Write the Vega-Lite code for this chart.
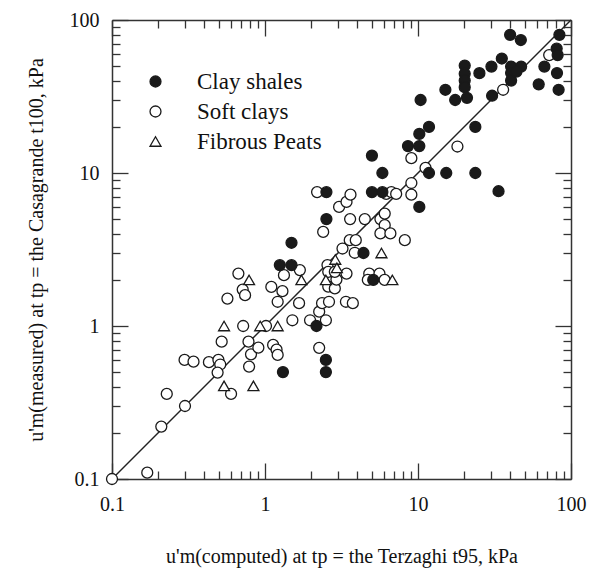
{
  "$schema": "https://vega.github.io/schema/vega-lite/v6.json",
  "width": 459,
  "height": 459,
  "autosize": {"type": "none"},
  "padding": {"left": 112, "top": 20, "right": 18, "bottom": 92},
  "background": "white",
  "config": {
    "view": {"stroke": null},
    "font": "Liberation Serif",
    "axis": {
      "grid": false,
      "labelFlush": false,
      "domainColor": "#333",
      "domainWidth": 1.5,
      "tickColor": "#333",
      "tickWidth": 1.3,
      "labelFont": "Liberation Serif",
      "labelFontSize": 20,
      "labelColor": "#111",
      "titleFont": "Liberation Serif",
      "titleFontSize": 20,
      "titleFontWeight": "normal",
      "titleColor": "#111"
    },
    "legend": {
      "orient": "none",
      "legendX": 32,
      "legendY": 50,
      "padding": 0,
      "labelFont": "Liberation Serif",
      "labelFontSize": 23,
      "labelColor": "#111",
      "labelOffset": 30,
      "rowPadding": 6,
      "symbolSize": 120,
      "symbolStrokeWidth": 1.3
    }
  },
  "datasets": {
    "pts": [
      {"x": 0.1, "y": 0.1, "type": "Soft clays"},
      {"x": 0.17, "y": 0.11, "type": "Soft clays"},
      {"x": 0.21, "y": 0.22, "type": "Soft clays"},
      {"x": 0.228, "y": 0.36, "type": "Soft clays"},
      {"x": 0.3, "y": 0.3, "type": "Soft clays"},
      {"x": 0.298, "y": 0.6, "type": "Soft clays"},
      {"x": 0.341, "y": 0.585, "type": "Soft clays"},
      {"x": 0.43, "y": 0.58, "type": "Soft clays"},
      {"x": 0.496, "y": 0.6, "type": "Soft clays"},
      {"x": 0.51, "y": 0.56, "type": "Soft clays"},
      {"x": 0.49, "y": 0.496, "type": "Soft clays"},
      {"x": 0.521, "y": 0.79, "type": "Soft clays"},
      {"x": 0.6, "y": 0.36, "type": "Soft clays"},
      {"x": 0.568, "y": 1.51, "type": "Soft clays"},
      {"x": 0.67, "y": 2.2, "type": "Soft clays"},
      {"x": 0.715, "y": 1.73, "type": "Soft clays"},
      {"x": 0.741, "y": 1.59, "type": "Soft clays"},
      {"x": 0.72, "y": 1.0, "type": "Soft clays"},
      {"x": 0.78, "y": 0.79, "type": "Soft clays"},
      {"x": 0.81, "y": 0.653, "type": "Soft clays"},
      {"x": 0.787, "y": 0.543, "type": "Soft clays"},
      {"x": 0.905, "y": 0.722, "type": "Soft clays"},
      {"x": 1.015, "y": 1.0, "type": "Soft clays"},
      {"x": 1.1, "y": 1.8, "type": "Soft clays"},
      {"x": 1.13, "y": 0.752, "type": "Soft clays"},
      {"x": 1.19, "y": 0.7, "type": "Soft clays"},
      {"x": 1.21, "y": 0.647, "type": "Soft clays"},
      {"x": 1.21, "y": 1.44, "type": "Soft clays"},
      {"x": 1.3, "y": 1.69, "type": "Soft clays"},
      {"x": 1.33, "y": 2.15, "type": "Soft clays"},
      {"x": 1.51, "y": 1.09, "type": "Soft clays"},
      {"x": 1.67, "y": 1.41, "type": "Soft clays"},
      {"x": 1.69, "y": 2.32, "type": "Soft clays"},
      {"x": 1.97, "y": 1.09, "type": "Soft clays"},
      {"x": 2.26, "y": 0.72, "type": "Soft clays"},
      {"x": 2.26, "y": 1.24, "type": "Soft clays"},
      {"x": 2.36, "y": 1.41, "type": "Soft clays"},
      {"x": 2.5, "y": 1.09, "type": "Soft clays"},
      {"x": 2.62, "y": 1.44, "type": "Soft clays"},
      {"x": 2.59, "y": 1.81, "type": "Soft clays"},
      {"x": 2.86, "y": 1.76, "type": "Soft clays"},
      {"x": 2.93, "y": 2.01, "type": "Soft clays"},
      {"x": 2.56, "y": 2.5, "type": "Soft clays"},
      {"x": 2.59, "y": 2.26, "type": "Soft clays"},
      {"x": 2.86, "y": 2.26, "type": "Soft clays"},
      {"x": 2.4, "y": 4.12, "type": "Soft clays"},
      {"x": 2.19, "y": 7.5, "type": "Soft clays"},
      {"x": 3.05, "y": 6.0, "type": "Soft clays"},
      {"x": 3.41, "y": 6.47, "type": "Soft clays"},
      {"x": 3.62, "y": 7.22, "type": "Soft clays"},
      {"x": 3.6, "y": 5.0, "type": "Soft clays"},
      {"x": 3.21, "y": 3.21, "type": "Soft clays"},
      {"x": 3.58, "y": 3.64, "type": "Soft clays"},
      {"x": 3.92, "y": 3.64, "type": "Soft clays"},
      {"x": 3.86, "y": 3.01, "type": "Soft clays"},
      {"x": 3.41, "y": 2.2, "type": "Soft clays"},
      {"x": 3.38, "y": 1.44, "type": "Soft clays"},
      {"x": 3.75, "y": 1.41, "type": "Soft clays"},
      {"x": 4.49, "y": 5.0, "type": "Soft clays"},
      {"x": 4.8, "y": 2.2, "type": "Soft clays"},
      {"x": 5.6, "y": 2.2, "type": "Soft clays"},
      {"x": 4.7, "y": 2.0, "type": "Soft clays"},
      {"x": 6.05, "y": 2.0, "type": "Soft clays"},
      {"x": 5.68, "y": 5.0, "type": "Soft clays"},
      {"x": 6.06, "y": 5.43, "type": "Soft clays"},
      {"x": 6.06, "y": 4.56, "type": "Soft clays"},
      {"x": 5.68, "y": 4.03, "type": "Soft clays"},
      {"x": 6.6, "y": 4.03, "type": "Soft clays"},
      {"x": 8.2, "y": 3.64, "type": "Soft clays"},
      {"x": 9.05, "y": 7.22, "type": "Soft clays"},
      {"x": 9.05, "y": 8.6, "type": "Soft clays"},
      {"x": 9.05, "y": 12.5, "type": "Soft clays"},
      {"x": 11.2, "y": 10.8, "type": "Soft clays"},
      {"x": 18.1, "y": 14.9, "type": "Soft clays"},
      {"x": 6.2, "y": 7.3, "type": "Soft clays"},
      {"x": 6.7, "y": 7.5, "type": "Soft clays"},
      {"x": 7.2, "y": 7.3, "type": "Soft clays"},
      {"x": 36, "y": 35, "type": "Soft clays"},
      {"x": 72, "y": 59, "type": "Soft clays"},
      {"x": 0.54, "y": 1.0, "type": "Fibrous Peats"},
      {"x": 0.787, "y": 2.0, "type": "Fibrous Peats"},
      {"x": 0.93, "y": 1.0, "type": "Fibrous Peats"},
      {"x": 1.21, "y": 1.0, "type": "Fibrous Peats"},
      {"x": 0.54, "y": 0.406, "type": "Fibrous Peats"},
      {"x": 0.84, "y": 0.406, "type": "Fibrous Peats"},
      {"x": 1.73, "y": 2.0, "type": "Fibrous Peats"},
      {"x": 2.5, "y": 2.0, "type": "Fibrous Peats"},
      {"x": 2.88, "y": 2.72, "type": "Fibrous Peats"},
      {"x": 2.95, "y": 2.4, "type": "Fibrous Peats"},
      {"x": 5.77, "y": 3.0, "type": "Fibrous Peats"},
      {"x": 6.8, "y": 2.0, "type": "Fibrous Peats"},
      {"x": 40, "y": 80, "type": "Clay shales"},
      {"x": 47, "y": 74, "type": "Clay shales"},
      {"x": 84, "y": 80, "type": "Clay shales"},
      {"x": 80.6, "y": 65, "type": "Clay shales"},
      {"x": 81.8, "y": 59, "type": "Clay shales"},
      {"x": 35.3, "y": 56, "type": "Clay shales"},
      {"x": 30.2, "y": 49.6, "type": "Clay shales"},
      {"x": 25.2, "y": 44.9, "type": "Clay shales"},
      {"x": 40.6, "y": 49.6, "type": "Clay shales"},
      {"x": 47.2, "y": 49.6, "type": "Clay shales"},
      {"x": 40.6, "y": 45, "type": "Clay shales"},
      {"x": 40.6, "y": 40.2, "type": "Clay shales"},
      {"x": 44, "y": 46, "type": "Clay shales"},
      {"x": 67, "y": 49.6, "type": "Clay shales"},
      {"x": 81, "y": 45, "type": "Clay shales"},
      {"x": 61.5, "y": 38, "type": "Clay shales"},
      {"x": 83, "y": 35, "type": "Clay shales"},
      {"x": 30.5, "y": 32, "type": "Clay shales"},
      {"x": 23.7, "y": 20, "type": "Clay shales"},
      {"x": 23.7, "y": 10, "type": "Clay shales"},
      {"x": 33.6, "y": 7.6, "type": "Clay shales"},
      {"x": 20.2, "y": 50.4, "type": "Clay shales"},
      {"x": 20.2, "y": 44.5, "type": "Clay shales"},
      {"x": 20.2, "y": 40.2, "type": "Clay shales"},
      {"x": 20.2, "y": 36.4, "type": "Clay shales"},
      {"x": 20.9, "y": 31, "type": "Clay shales"},
      {"x": 15.1, "y": 35, "type": "Clay shales"},
      {"x": 17.5, "y": 30, "type": "Clay shales"},
      {"x": 10.4, "y": 30, "type": "Clay shales"},
      {"x": 11.8, "y": 20, "type": "Clay shales"},
      {"x": 10.2, "y": 18, "type": "Clay shales"},
      {"x": 8.6, "y": 15, "type": "Clay shales"},
      {"x": 10.2, "y": 15, "type": "Clay shales"},
      {"x": 5.0, "y": 13, "type": "Clay shales"},
      {"x": 5.85, "y": 10, "type": "Clay shales"},
      {"x": 11.8, "y": 10, "type": "Clay shales"},
      {"x": 15.3, "y": 10, "type": "Clay shales"},
      {"x": 10.2, "y": 6, "type": "Clay shales"},
      {"x": 2.52, "y": 7.5, "type": "Clay shales"},
      {"x": 5.0, "y": 7.5, "type": "Clay shales"},
      {"x": 5.85, "y": 7.5, "type": "Clay shales"},
      {"x": 2.52, "y": 5.0, "type": "Clay shales"},
      {"x": 1.49, "y": 3.5, "type": "Clay shales"},
      {"x": 1.25, "y": 2.5, "type": "Clay shales"},
      {"x": 1.49, "y": 2.5, "type": "Clay shales"},
      {"x": 4.4, "y": 3.0, "type": "Clay shales"},
      {"x": 5.1, "y": 2.0, "type": "Clay shales"},
      {"x": 2.17, "y": 1.0, "type": "Clay shales"},
      {"x": 2.5, "y": 0.6, "type": "Clay shales"},
      {"x": 2.5, "y": 0.5, "type": "Clay shales"},
      {"x": 1.31, "y": 0.5, "type": "Clay shales"}
    ],
    "diag": [
      {"x": 0.1, "y": 0.1},
      {"x": 100, "y": 100}
    ]
  },
  "layer": [
    {
      "data": {"name": "diag"},
      "mark": {"type": "line", "color": "#222", "strokeWidth": 1.5},
      "encoding": {
        "x": {"field": "x", "type": "quantitative",
          "scale": {"type": "log", "domain": [0.1, 100], "nice": false},
          "axis": {"orient": "bottom", "values": [0.1, 1, 10, 100], "format": "~g", "tickSize": -16, "labelPadding": 31,
            "title": "u'm(computed) at tp = the Terzaghi  t95, kPa", "titlePadding": 32}},
        "y": {"field": "y", "type": "quantitative",
          "scale": {"type": "log", "domain": [0.1, 100], "nice": false},
          "axis": {"orient": "left", "values": [0.1, 1, 10, 100], "format": "~g", "tickSize": -16, "labelPadding": 29,
            "title": "u'm(measured) at tp = the Casagrande t100, kPa", "titlePadding": 23}}
      }
    },
    {
      "data": {"name": "diag"},
      "mark": {"type": "line", "opacity": 0},
      "encoding": {
        "x": {"field": "x", "type": "quantitative",
          "axis": {"orient": "bottom", "values": [0.2,0.3,0.4,0.5,0.6,0.7,0.8,0.9,2,3,4,5,6,7,8,9,20,30,40,50,60,70,80,90], "labels": false, "tickSize": -8, "domain": false, "title": null}},
        "y": {"field": "y", "type": "quantitative",
          "axis": {"orient": "left", "values": [0.2,0.3,0.4,0.5,0.6,0.7,0.8,0.9,2,3,4,5,6,7,8,9,20,30,40,50,60,70,80,90], "labels": false, "tickSize": -8, "domain": false, "title": null}}
      }
    },
    {
      "data": {"name": "diag"},
      "mark": {"type": "line", "opacity": 0},
      "encoding": {
        "x": {"field": "x", "type": "quantitative",
          "axis": {"orient": "top", "values": [0.1, 1, 10, 100], "labels": false, "tickSize": -16, "title": null}},
        "y": {"field": "y", "type": "quantitative",
          "axis": {"orient": "right", "values": [0.1, 1, 10, 100], "labels": false, "tickSize": -16, "title": null}}
      }
    },
    {
      "data": {"name": "diag"},
      "mark": {"type": "line", "opacity": 0},
      "encoding": {
        "x": {"field": "x", "type": "quantitative",
          "axis": {"orient": "top", "values": [0.2,0.3,0.4,0.5,0.6,0.7,0.8,0.9,2,3,4,5,6,7,8,9,20,30,40,50,60,70,80,90], "labels": false, "tickSize": -8, "domain": false, "title": null}},
        "y": {"field": "y", "type": "quantitative",
          "axis": {"orient": "right", "values": [0.2,0.3,0.4,0.5,0.6,0.7,0.8,0.9,2,3,4,5,6,7,8,9,20,30,40,50,60,70,80,90], "labels": false, "tickSize": -8, "domain": false, "title": null}}
      }
    },
    {
      "data": {"name": "pts"},
      "mark": {"type": "point", "filled": true, "stroke": "#1a1a1a", "strokeWidth": 1.3, "opacity": 1, "size": 120},
      "encoding": {
        "x": {"field": "x", "type": "quantitative", "axis": null},
        "y": {"field": "y", "type": "quantitative", "axis": null},
        "fill": {"field": "type", "type": "nominal",
          "scale": {"domain": ["Clay shales", "Soft clays", "Fibrous Peats"], "range": ["#1a1a1a", "#ffffff", "#ffffff"]},
          "legend": {"title": null}},
        "shape": {"field": "type", "type": "nominal",
          "scale": {"domain": ["Clay shales", "Soft clays", "Fibrous Peats"], "range": ["circle", "circle", "triangle-up"]},
          "legend": {"title": null}}
      }
    }
  ],
  "resolve": {"scale": {"x": "shared", "y": "shared"}, "axis": {"x": "independent", "y": "independent"}}
}
